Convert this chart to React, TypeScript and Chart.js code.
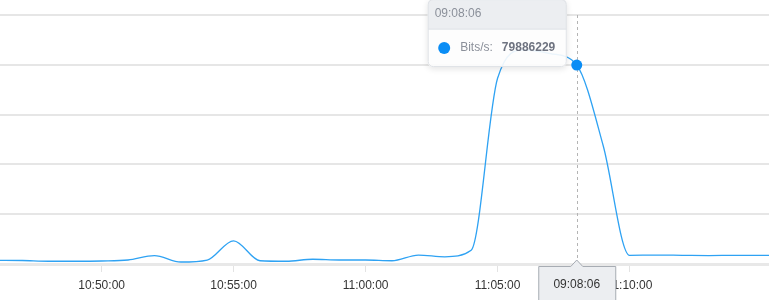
import React, { useEffect, useRef } from "react";
import { Chart, registerables } from "chart.js";

Chart.register(...registerables);

// ---- data ----
const TIMES = [
  "10:46:00", "10:47:00", "10:48:00", "10:49:00", "10:50:00", "10:51:00",
  "10:52:00", "10:53:00", "10:54:00", "10:55:00", "10:56:00", "10:57:00",
  "10:58:00", "10:59:00", "11:00:00", "11:01:00", "11:02:00", "11:03:00",
  "11:04:00", "11:05:00", "11:06:00", "11:07:00", "11:08:00", "11:09:00",
  "11:10:00", "11:11:00", "11:12:00", "11:13:00", "11:14:00", "11:15:00",
  "11:16:00",
];
const BITS_PER_SEC = [
  1500000, 1400000, 1100000, 1100000, 1200000, 1600000,
  3400000, 800000, 1600000, 9300000, 1300000, 1100000,
  1900000, 1600000, 1600000, 1300000, 3600000, 2900000,
  5500000, 74600000, 86000000, 84500000, 79886229, 47600000,
  3500000, 3600000, 3500000, 3400000, 3500000, 3500000,
  3500000,
];
const TICK_LABELS = ["10:50:00", "10:55:00", "11:00:00", "11:05:00", "11:10:00"];
const X_MIN = "10:46:09";
const X_MAX = "11:15:17";
const Y_MIN = 0;
const Y_MAX = 100000000;
const Y_STEP = 20000000;
const SERIES_LABEL = "Bits/s";
const ACTIVE_INDEX = 22;
const TOOLTIP_TIME = "09:08:06";

const FONT = "'Helvetica Neue', Helvetica, Arial, sans-serif";

const toSec = (t: string) => {
  const [h, m, s] = t.split(":").map(Number);
  return h * 3600 + m * 60 + s;
};
const pad = (n: number) => String(n).padStart(2, "0");
const fmtSec = (v: number) => {
  const h = Math.floor(v / 3600);
  const m = Math.floor((v % 3600) / 60);
  const s = Math.round(v % 60);
  return `${pad(h)}:${pad(m)}:${pad(s)}`;
};

function roundRect(ctx: CanvasRenderingContext2D, x: number, y: number, w: number, h: number, r: number) {
  ctx.beginPath();
  ctx.moveTo(x + r, y);
  ctx.lineTo(x + w - r, y);
  ctx.arcTo(x + w, y, x + w, y + r, r);
  ctx.lineTo(x + w, y + h - r);
  ctx.arcTo(x + w, y + h, x + w - r, y + h, r);
  ctx.lineTo(x + r, y + h);
  ctx.arcTo(x, y + h, x, y + h - r, r);
  ctx.lineTo(x, y + r);
  ctx.arcTo(x, y, x + r, y, r);
  ctx.closePath();
}

const overlayPlugin = {
  id: "hoverOverlay",
  beforeDatasetsDraw(chart: any) {
    const meta = chart.getDatasetMeta(0);
    const p = meta.data[ACTIVE_INDEX];
    if (!p) return;
    const { ctx, chartArea } = chart;
    ctx.save();
    ctx.strokeStyle = "#b4b4b4";
    ctx.lineWidth = 1;
    ctx.setLineDash([3, 3]);
    const x = Math.round(p.x) + 0.5;
    ctx.beginPath();
    ctx.moveTo(x, chartArea.top);
    ctx.lineTo(x, chartArea.bottom - 5);
    ctx.stroke();
    ctx.restore();
  },
  afterDraw(chart: any) {
    const meta = chart.getDatasetMeta(0);
    const p = meta.data[ACTIVE_INDEX];
    if (!p) return;
    const { ctx, chartArea } = chart;
    const px = p.x;
    const py = p.y;

    // ---- bottom axis label box ----
    ctx.save();
    const bw = 77;
    const bl = px - bw / 2;
    const bt = chartArea.bottom + 2;
    ctx.beginPath();
    ctx.moveTo(bl + 0.5, bt + 0.5);
    ctx.lineTo(px - 6, bt + 0.5);
    ctx.lineTo(px, bt - 6);
    ctx.lineTo(px + 6, bt + 0.5);
    ctx.lineTo(bl + bw + 0.5, bt + 0.5);
    ctx.lineTo(bl + bw + 0.5, bt + 50);
    ctx.lineTo(bl + 0.5, bt + 50);
    ctx.closePath();
    ctx.fillStyle = "#eceef1";
    ctx.fill();
    ctx.strokeStyle = "#a7acb3";
    ctx.lineWidth = 1;
    ctx.stroke();
    ctx.fillStyle = "#333";
    ctx.font = `12px ${FONT}`;
    ctx.textAlign = "center";
    ctx.textBaseline = "middle";
    const xValue = meta._parsed[ACTIVE_INDEX].x;
    ctx.fillText(TOOLTIP_TIME || fmtSec(xValue), px, chartArea.bottom + 21);
    ctx.restore();

    // ---- tooltip ----
    ctx.save();
    const value = String(BITS_PER_SEC[ACTIVE_INDEX]);
    ctx.font = `12px ${FONT}`;
    const labelText = `${SERIES_LABEL}:`;
    const labelW = ctx.measureText(labelText).width;
    ctx.font = `bold 12px ${FONT}`;
    const valueW = ctx.measureText(value).width;
    const tw = 33 + labelW + 9 + valueW + 11;
    const th = 68;
    const tr = px - 10;
    const tl = tr - tw;
    const tb = py + 2;
    const tt = tb - th;
    const headerH = 30.5;

    ctx.shadowColor = "rgba(0,0,0,0.12)";
    ctx.shadowBlur = 6;
    ctx.shadowOffsetY = 2;
    roundRect(ctx, tl, tt, tw, th, 5);
    ctx.fillStyle = "rgba(255,255,255,0.9)";
    ctx.fill();
    ctx.shadowColor = "transparent";

    ctx.save();
    roundRect(ctx, tl, tt, tw, th, 5);
    ctx.clip();
    ctx.fillStyle = "#eceef1";
    ctx.fillRect(tl, tt, tw, headerH);
    ctx.fillStyle = "#e0e3e7";
    ctx.fillRect(tl, tt + headerH - 1, tw, 1);
    ctx.restore();

    roundRect(ctx, tl + 0.5, tt + 0.5, tw - 1, th - 1, 5);
    ctx.strokeStyle = "#dfe2e6";
    ctx.lineWidth = 1;
    ctx.stroke();

    ctx.textBaseline = "middle";
    ctx.textAlign = "left";
    ctx.font = `12px ${FONT}`;
    ctx.fillStyle = "#8b909a";
    ctx.fillText(TOOLTIP_TIME, tl + 7, tt + 15);

    const rowY = tb - 19;
    ctx.beginPath();
    ctx.arc(tl + 16.5, rowY, 6, 0, Math.PI * 2);
    ctx.fillStyle = "#0a8df5";
    ctx.fill();

    ctx.fillStyle = "#8b909a";
    ctx.fillText(labelText, tl + 32.5, rowY);
    ctx.font = `bold 12px ${FONT}`;
    ctx.fillStyle = "#6e7380";
    ctx.fillText(value, tl + 32.5 + labelW + 9, rowY);
    ctx.restore();
  },
};

export default function App() {
  const canvasRef = useRef<HTMLCanvasElement | null>(null);

  useEffect(() => {
    if (!canvasRef.current) return;
    const points = TIMES.map((t, i) => ({ x: toSec(t), y: BITS_PER_SEC[i] }));
    const tickValues = TICK_LABELS.map(toSec);

    const chart = new Chart(canvasRef.current, {
      type: "line",
      data: {
        datasets: [
          {
            label: SERIES_LABEL,
            data: points,
            borderColor: "#2ea2f3",
            borderWidth: 1.3,
            cubicInterpolationMode: "monotone",
            fill: false,
            pointRadius: (c: any) => (c.dataIndex === ACTIVE_INDEX ? 5.5 : 0),
            pointHoverRadius: 0,
            pointBackgroundColor: "#0a8df5",
            pointBorderWidth: 0,
          },
        ],
      },
      options: {
        animation: false,
        responsive: false,
        events: [],
        layout: { padding: { top: 15, bottom: 1.6, left: 0, right: 0 } },
        plugins: {
          legend: { display: false },
          tooltip: { enabled: false },
        },
        scales: {
          x: {
            type: "linear",
            min: toSec(X_MIN),
            max: toSec(X_MAX),
            afterBuildTicks: (scale: any) => {
              scale.ticks = tickValues.map((v) => ({ value: v }));
            },
            ticks: {
              autoSkip: false,
              maxRotation: 0,
              padding: 6,
              color: "#333",
              font: { family: FONT, size: 12 },
              callback: (v: any) => fmtSec(Number(v)),
            },
            grid: {
              drawOnChartArea: false,
              drawTicks: true,
              tickLength: 8,
              color: "#e3e3e3",
              lineWidth: 1,
            },
            border: { display: true, color: "#e8e8e8", width: 3 },
          },
          y: {
            type: "linear",
            min: Y_MIN,
            max: Y_MAX,
            ticks: { display: false, stepSize: Y_STEP },
            grid: { color: "#e6e6e6", lineWidth: 2, drawTicks: false },
            border: { display: false },
          },
        },
      },
      plugins: [overlayPlugin],
    } as any);

    return () => chart.destroy();
  }, []);

  return (
    <div style={{ position: "fixed", left: 0, top: 0, width: 769, height: 300, background: "#fff" }}>
      <canvas ref={canvasRef} width={769} height={300} />
    </div>
  );
}
